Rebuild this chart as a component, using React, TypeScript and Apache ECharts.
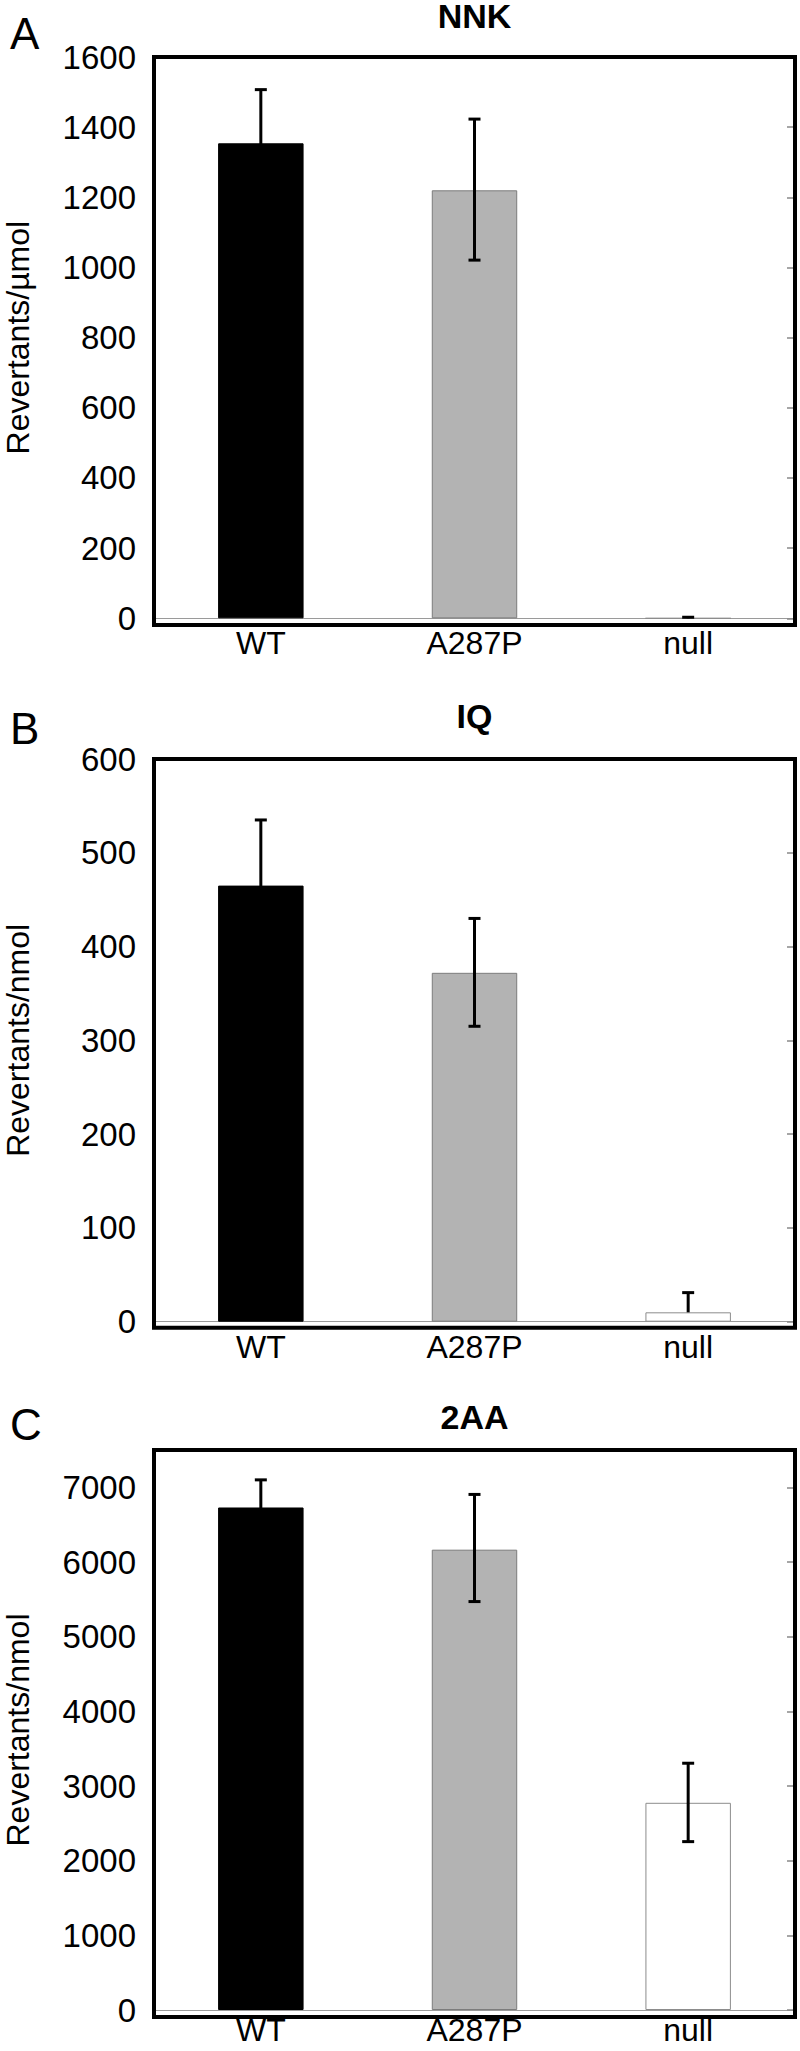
import React, { useEffect, useRef } from "react";
import * as echarts from "echarts";

const categories = ["WT", "A287P", "null"];

const nnkMeans = [1354, 1220, 0];
const nnkLow = [1201, 1021, 0];
const nnkHigh = [1507, 1423, 3];

const iqMeans = [465, 372, 10];
const iqLow = [395, 315, 10];
const iqHigh = [535, 430, 31];

const aaMeans = [6730, 6165, 2775];
const aaLow = [6360, 5470, 2255];
const aaHigh = [7100, 6905, 3305];

const panelLetters = ["A", "B", "C"];
const panelTitles = ["NNK", "IQ", "2AA"];
const axisNames = ["Revertants/µmol", "Revertants/nmol", "Revertants/nmol"];
const axisMax = [1600, 600, 7500];
const axisInterval = [200, 100, 1000];

const barFill = ["#000000", "#b3b3b3", "#ffffff"];
const barBorder = ["#000000", "#7c7c7c", "#8c8c8c"];

const FONT = '"Liberation Sans", Arial, sans-serif';

// layout (px)
const GRID_LEFT = 154;
const GRID_WIDTH = 641;
const gridTop = [57, 759, 1450];
const zeroY = [618.3, 1321.7, 2010];
const frameBottom = [625, 1327.7, 2017];
const titleY = [16, 716, 1417];
const letterY = [33, 728, 1424];
const xLabelMargin = [12, 12, 7];

const means = [nnkMeans, iqMeans, aaMeans];
const lows = [nnkLow, iqLow, aaLow];
const highs = [nnkHigh, iqHigh, aaHigh];

function renderErr(params: any, api: any) {
  const k = api.value(0);
  const lo = api.value(1);
  const hi = api.value(2);
  const m = api.value(3);
  const pt = api.coord([k, hi]);
  const pb = api.coord([k, lo]);
  const half = 6;
  const style = { stroke: "#000", lineWidth: 3 };
  const children: any[] = [
    { type: "line", shape: { x1: pt[0], y1: pt[1], x2: pb[0], y2: pb[1] }, style },
    { type: "line", shape: { x1: pt[0] - half, y1: pt[1], x2: pt[0] + half, y2: pt[1] }, style },
  ];
  if (lo < m) {
    children.push({ type: "line", shape: { x1: pb[0] - half, y1: pb[1], x2: pb[0] + half, y2: pb[1] }, style });
  }
  return { type: "group", children };
}

function buildOption() {
  const idx = [0, 1, 2];
  const grid = idx.map((i) => ({
    left: GRID_LEFT,
    width: GRID_WIDTH,
    top: gridTop[i],
    height: zeroY[i] - gridTop[i],
    show: false,
    containLabel: false,
    outerBoundsMode: "none",
  }));
  const xAxis = idx.map((i) => ({
    type: "category",
    gridIndex: i,
    data: categories,
    axisLine: { show: true, lineStyle: { color: "#9a9a9a", width: 1 } },
    axisTick: { show: false },
    axisLabel: { color: "#000", fontSize: 32, lineHeight: 26, fontFamily: FONT, margin: xLabelMargin[i] },
  }));
  const yLeft = idx.map((i) => ({
    type: "value",
    gridIndex: i,
    min: 0,
    max: axisMax[i],
    interval: axisInterval[i],
    axisLine: { show: false },
    axisTick: { show: false },
    splitLine: { show: false },
    axisLabel: {
      color: "#000",
      fontSize: 33,
      fontFamily: FONT,
      margin: 18,
      showMaxLabel: axisMax[i] % axisInterval[i] === 0,
      padding: [0, 0, 10, 0],
      formatter: (v: number) => String(v),
    },
    name: axisNames[i],
    nameLocation: "middle",
    nameGap: 120,
    nameTextStyle: { fontSize: 32, color: "#000", fontFamily: FONT },
  }));
  const yRight = idx.map((i) => ({
    type: "value",
    gridIndex: i,
    position: "right",
    min: 0,
    max: axisMax[i],
    interval: axisInterval[i],
    axisLine: { show: false },
    axisTick: { show: true, inside: true, length: 8, lineStyle: { color: "#888", width: 1.5 } },
    axisLabel: { show: false },
    splitLine: { show: false },
  }));
  const series: any[] = [];
  idx.forEach((i) => {
    series.push({
      type: "bar",
      xAxisIndex: i,
      yAxisIndex: i,
      barWidth: "40%",
      z: 2,
      data: means[i].map((v, k) => ({
        value: v,
        itemStyle: { color: barFill[k], borderColor: barBorder[k], borderWidth: 1 },
      })),
    });
    series.push({
      type: "custom",
      xAxisIndex: i,
      yAxisIndex: i,
      z: 3,
      renderItem: renderErr,
      encode: { x: 0, y: [1, 2] },
      data: categories.map((c, k) => [k, lows[i][k], highs[i][k], means[i][k]]),
    });
  });
  const graphic: any[] = [];
  idx.forEach((i) => {
    graphic.push({
      type: "rect",
      z: 100,
      silent: true,
      shape: { x: GRID_LEFT, y: gridTop[i], width: GRID_WIDTH, height: frameBottom[i] - gridTop[i] },
      style: { fill: "none", stroke: "#000", lineWidth: 4 },
    });
    graphic.push({
      type: "text",
      z: 100,
      x: GRID_LEFT + GRID_WIDTH / 2,
      y: titleY[i],
      style: {
        text: panelTitles[i],
        font: `bold 34px ${FONT}`,
        lineHeight: 30,
        fill: "#000",
        textAlign: "center",
        textVerticalAlign: "middle",
        align: "center",
        verticalAlign: "middle",
      },
    });
    graphic.push({
      type: "text",
      z: 100,
      x: 10,
      y: letterY[i],
      style: {
        text: panelLetters[i],
        font: `44px ${FONT}`,
        fill: "#000",
        textAlign: "left",
        textVerticalAlign: "middle",
        align: "left",
        verticalAlign: "middle",
      },
    });
  });
  return {
    animation: false,
    backgroundColor: "#ffffff",
    grid,
    xAxis,
    yAxis: [...yLeft, ...yRight],
    series,
    graphic,
  };
}

export default function App() {
  const ref = useRef<HTMLDivElement>(null);
  useEffect(() => {
    document.body.style.margin = "0";
    const chart = echarts.init(ref.current as HTMLDivElement, null, { renderer: "svg" });
    chart.setOption(buildOption() as any);
    return () => chart.dispose();
  }, []);
  return <div ref={ref} style={{ width: 800, height: 2051 }} />;
}
